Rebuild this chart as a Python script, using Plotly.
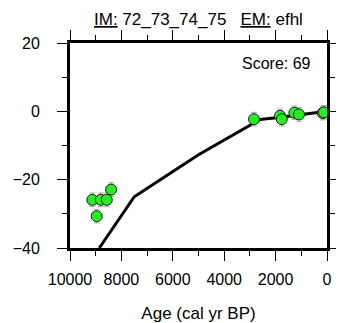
import plotly.graph_objects as go

# sample ages (cal yr BP) and values
age = [9130, 8960, 8800, 8570, 8400, 2840, 1830, 1760, 1270, 1090, 170, 120]
val = [-25.9, -30.7, -25.9, -25.9, -22.9, -2.3, -1.3, -2.3, -0.4, -0.9, -0.5, -0.3]
age_err = [200, 200, 200, 200, 200, 150, 150, 150, 150, 150, 100, 100]
val_err = [2, 2, 2, 2, 2, 2, 2, 2, 2, 2, 2, 2]

# model curve
curve_age = [8860, 7500, 5000, 2600, 1800, 600, 0]
curve_val = [-40, -25, -12.7, -2.4, -1.7, -0.6, 0]

fnt = "Liberation Sans, Arial, sans-serif"

fig = go.Figure()
fig.add_trace(go.Scatter(x=curve_age, y=curve_val, mode="lines",
                         line=dict(color="black", width=3), showlegend=False))
fig.add_trace(go.Scatter(
    x=age, y=val, mode="markers", showlegend=False,
    marker=dict(size=11, color="#22ee22", line=dict(color="#222222", width=1)),
    error_x=dict(type="data", array=age_err, color="#aaaaaa", thickness=1, width=3),
    error_y=dict(type="data", array=val_err, color="#aaaaaa", thickness=1, width=3),
))

# page body has an 8px margin, so the figure is sized/placed to compensate
fig.add_annotation(x=0.5, y=1.0, xref="paper", yref="paper", yshift=24,
                   text="<u>IM:</u> 72_73_74_75 &nbsp; <u>EM:</u> efhl",
                   showarrow=False, yanchor="middle", font=dict(size=17, color="black"))
fig.add_annotation(x=0.945, y=0.898, xref="paper", yref="paper",
                   text="Score: 69", showarrow=False, xanchor="right", yanchor="middle",
                   font=dict(size=16, color="black"))

fig.update_xaxes(range=[10000, 0], dtick=2000, tickformat="d", ticks="outside", ticklen=10,
                 tickwidth=1, tickcolor="black", showline=True, linewidth=3, linecolor="black",
                 mirror="ticks", showgrid=False, zeroline=False, automargin=False,
                 ticklabelstandoff=5,
                 minor=dict(dtick=1000, ticks="outside", ticklen=5, tickcolor="black"),
                 title=dict(text="Age (cal yr BP)", standoff=28, font=dict(size=17)),
                 tickfont=dict(size=16, color="black"))
fig.update_yaxes(range=[-40, 20], dtick=20, ticks="outside", ticklen=10, tickwidth=1,
                 tickcolor="black", showline=True, linewidth=3, linecolor="black",
                 mirror="ticks", showgrid=False, zeroline=False, automargin=False,
                 ticklabelstandoff=14,
                 minor=dict(dtick=10, ticks="outside", ticklen=5, tickcolor="black"),
                 tickfont=dict(size=16, color="black"))

fig.update_layout(width=328, height=315, autosize=False,
                  margin=dict(l=62, r=9, t=35, b=75, pad=0),
                  plot_bgcolor="white", paper_bgcolor="white",
                  font=dict(family=fnt, size=16, color="black"))

fig.write_html("out.html", config={"responsive": False})
